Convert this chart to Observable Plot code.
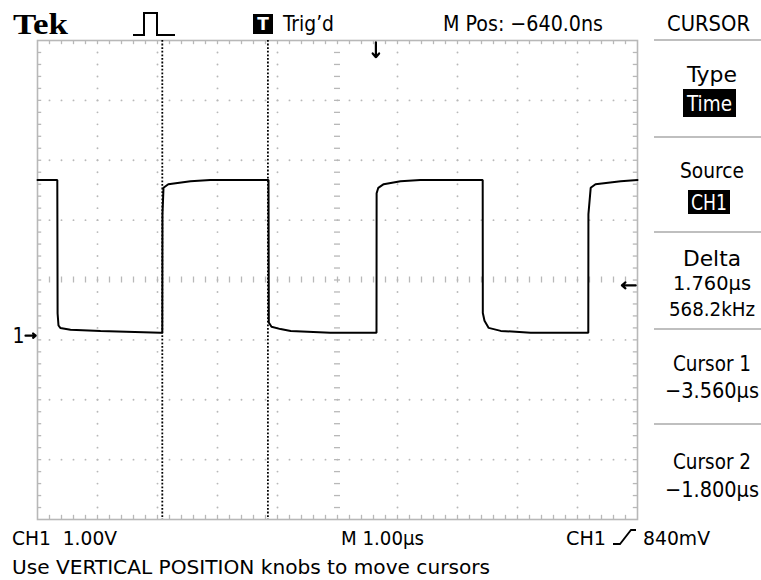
<!DOCTYPE html>
<html>
<head>
<meta charset="utf-8">
<script src="https://cdn.jsdelivr.net/npm/d3@7"></script>
<script src="https://cdn.jsdelivr.net/npm/@observablehq/plot@0.6"></script>
<style>
  html, body { margin: 0; padding: 0; background: #fff; }
  #chart { width: 761px; height: 580px; }
</style>
</head>
<body>
<div id="chart"></div>
<script>
// ---- data ----
const traceTime = [-5.64, -5.31, -5.305, -5.29, -5.26, -5.09, -4.59, -3.59, -3.56,
  -3.557, -3.54, -3.46, -3.09, -2.76, -1.79,
  -1.785, -1.74, -1.59, -1.42, -0.76, 0.01,
  0.012, 0.04, 0.13, 0.41, 0.74, 1.78,
  1.782, 1.81, 1.88, 2.08, 2.58, 3.54,
  3.542, 3.58, 3.66, 4.08, 4.36];
const traceVolts = [2.60, 2.60, 0.37, 0.17, 0.13, 0.10, 0.08, 0.05, 0.05,
  2.03, 2.47, 2.53, 2.58, 2.60, 2.60,
  0.22, 0.15, 0.11, 0.08, 0.05, 0.05,
  2.38, 2.47, 2.53, 2.58, 2.60, 2.60,
  0.38, 0.25, 0.13, 0.08, 0.05, 0.05,
  2.03, 2.47, 2.53, 2.58, 2.60];
const cursorTimes = [-3.56, -1.80];
const triggerTime = [0];
const triggerLevel = [0.84];
const groundLevel = [0];
const xDomain = [-5.64, 4.36];   // µs, 10 divisions
const yDomain = [-3.07, 4.93];   // V, 8 divisions

const headerTexts = ["Tek", "Trig’d", "M Pos: −640.0ns", "CURSOR"];
const panelHeadings = ["Type", "Source", "Delta", "Cursor 1", "Cursor 2"];
const panelValues = [["Time"], ["CH1"], ["1.760µs", "568.2kHz"], ["−3.560µs"], ["−1.800µs"]];
const footerTexts = ["CH1  1.00V", "M 1.00µs", "CH1", "840mV", "Use VERTICAL POSITION knobs to move cursors"];

// ---- derived tables ----
const trace = traceTime.map((t, i) => ({t, v: traceVolts[i]}));
const [X0, X1] = xDomain, [Y0, Y1] = yDomain;
const majorX = d3.range(11).map(k => X0 + k);
const majorY = d3.range(9).map(k => Y0 + k);
const minorX = d3.range(1, 50).map(i => X0 + i * 0.2);
const minorY = d3.range(1, 40).map(j => Y0 + j * 0.2);
const xc = majorX[5], yc = majorY[4];
const gridDots = [];
majorX.slice(1, -1).forEach((x, k) => { if (k + 1 !== 5) minorY.forEach(y => gridDots.push({x, y})); });
majorY.slice(1, -1).forEach((y, k) => { if (k + 1 !== 4) minorX.forEach(x => gridDots.push({x, y})); });

const G = "#b8b8b8";
const FONT = "'DejaVu Sans Condensed', 'Liberation Sans Narrow', 'DejaVu Sans', sans-serif";

const chart = Plot.plot({
  width: 761,
  height: 580,
  marginLeft: 37,
  marginRight: 124,
  marginTop: 40,
  marginBottom: 61,
  x: {domain: xDomain, axis: null},
  y: {domain: yDomain, axis: null},
  style: {background: "#fff", fontFamily: FONT},
  marks: [
    Plot.dot(gridDots, {x: "x", y: "y", r: 0.95, fill: G, stroke: null}),
    // edge ticks
    Plot.ruleX(minorX, {x: d => d, y1: Y1, y2: Y1 - 0.07, stroke: G, strokeWidth: 1.3}),
    Plot.ruleX(minorX, {x: d => d, y1: Y0, y2: Y0 + 0.07, stroke: G, strokeWidth: 1.3}),
    Plot.ruleY(minorY, {y: d => d, x1: X0, x2: X0 + 0.07, stroke: G, strokeWidth: 1.3}),
    Plot.ruleY(minorY, {y: d => d, x1: X1, x2: X1 - 0.07, stroke: G, strokeWidth: 1.3}),
    // center cross dashes
    Plot.ruleX(minorX, {x: d => d, y1: yc - 0.05, y2: yc + 0.05, stroke: G, strokeWidth: 1.3}),
    Plot.ruleY(minorY, {y: d => d, x1: xc - 0.05, x2: xc + 0.05, stroke: G, strokeWidth: 1.3}),
    Plot.frame({stroke: G, strokeWidth: 1.6}),
    // waveform
    Plot.line(trace, {x: "t", y: "v", stroke: "#000", strokeWidth: 2, strokeLinejoin: "miter"}),
    // cursors
    Plot.ruleX(cursorTimes, {x: d => d, stroke: "#000", strokeWidth: 1.8, strokeDasharray: "1.8,1.8"}),
    // trigger position marker (top)
    Plot.arrow(triggerTime, {x1: d => d, x2: d => d, y1: Y1 - 0.03, y2: Y1 - 0.28, stroke: "#000", strokeWidth: 2.2, headLength: 8, headAngle: 80}),
    // trigger level marker (right)
    Plot.arrow(triggerLevel, {y1: d => d, y2: d => d, x1: X1 - 0.03, x2: X1 - 0.26, stroke: "#000", strokeWidth: 2.2, headLength: 8, headAngle: 80}),
    // ground marker (left)
    Plot.arrow(groundLevel, {y1: d => d, y2: d => d, x1: X0 - 0.2, x2: X0 - 0.03, stroke: "#000", strokeWidth: 2.2, headLength: 7, headAngle: 80, clip: false}),
    Plot.text(groundLevel, {y: d => d, frameAnchor: "left", text: () => "1", textAnchor: "end", dx: -13, dy: 1, fontSize: 21, fill: "#000"})
  ]
});

const svg = d3.select(chart).attr("overflow", "visible");
svg.style("font-family", FONT);

function addText(txt, x, y, opts = {}) {
  const t = svg.append("text")
    .attr("x", x).attr("y", y)
    .attr("text-anchor", opts.anchor || "start")
    .attr("font-size", opts.size || 21)
    .attr("font-family", opts.family || FONT)
    .attr("font-weight", opts.weight || "normal")
    .attr("fill", opts.fill || "#000")
    .text(txt);
  if (opts.len) t.attr("textLength", opts.len).attr("lengthAdjust", "spacingAndGlyphs");
  return t;
}

// ---- header ----
addText(headerTexts[0], 13, 34, {size: 30, weight: "bold", family: "'Liberation Serif', 'DejaVu Serif', serif", len: 55});
svg.append("path").attr("d", "M133,35H144V13H157V35H175").attr("fill", "none").attr("stroke", "#000").attr("stroke-width", 2);
svg.append("rect").attr("x", 253).attr("y", 14).attr("width", 20).attr("height", 20).attr("fill", "#000");
addText("T", 263, 30, {size: 17, weight: "bold", fill: "#fff", anchor: "middle", family: "'DejaVu Sans', sans-serif"});
addText(headerTexts[1], 283, 31, {size: 22, len: 51});
addText(headerTexts[2], 443, 31, {size: 22, len: 160});
addText(headerTexts[3], 667, 31, {size: 22, len: 83});

// ---- side panel ----
const sepY = [40, 137, 232, 329, 424];
sepY.forEach(y => svg.append("line").attr("x1", 654).attr("x2", 761).attr("y1", y).attr("y2", y).attr("stroke", "#aaa").attr("stroke-width", 1.6));
const cx = 712;
addText(panelHeadings[0], cx, 82, {anchor: "middle", len: 50});
svg.append("rect").attr("x", 683).attr("y", 89).attr("width", 53).attr("height", 28).attr("fill", "#000");
addText(panelValues[0][0], 709.5, 111, {anchor: "middle", fill: "#fff", len: 45});
addText(panelHeadings[1], cx, 178, {anchor: "middle", len: 64});
svg.append("rect").attr("x", 688).attr("y", 190).attr("width", 42).attr("height", 24).attr("fill", "#000");
addText(panelValues[1][0], 709, 210, {anchor: "middle", fill: "#fff", len: 36});
addText(panelHeadings[2], cx, 266, {anchor: "middle", len: 58});
addText(panelValues[2][0], cx, 290, {size: 20, anchor: "middle", len: 78});
addText(panelValues[2][1], cx, 316, {size: 20, anchor: "middle", len: 86});
addText(panelHeadings[3], cx, 371, {anchor: "middle", len: 78});
addText(panelValues[3][0], cx, 398, {anchor: "middle", len: 94});
addText(panelHeadings[4], cx, 469, {anchor: "middle", len: 78});
addText(panelValues[4][0], cx, 497, {anchor: "middle", len: 94});

// ---- footer ----
addText(footerTexts[0], 12, 545, {size: 20, len: 105}).attr("xml:space", "preserve").style("white-space", "pre");
addText(footerTexts[1], 341, 545, {size: 20, len: 83});
addText(footerTexts[2], 566, 545, {size: 20, len: 40});
svg.append("path").attr("d", "M613,544H620L631,530H636").attr("fill", "none").attr("stroke", "#000").attr("stroke-width", 1.8);
addText(footerTexts[3], 643, 545, {size: 20, len: 67});
addText(footerTexts[4], 12, 574, {size: 19, len: 478});

document.getElementById("chart").appendChild(chart);
</script>
</body>
</html>
